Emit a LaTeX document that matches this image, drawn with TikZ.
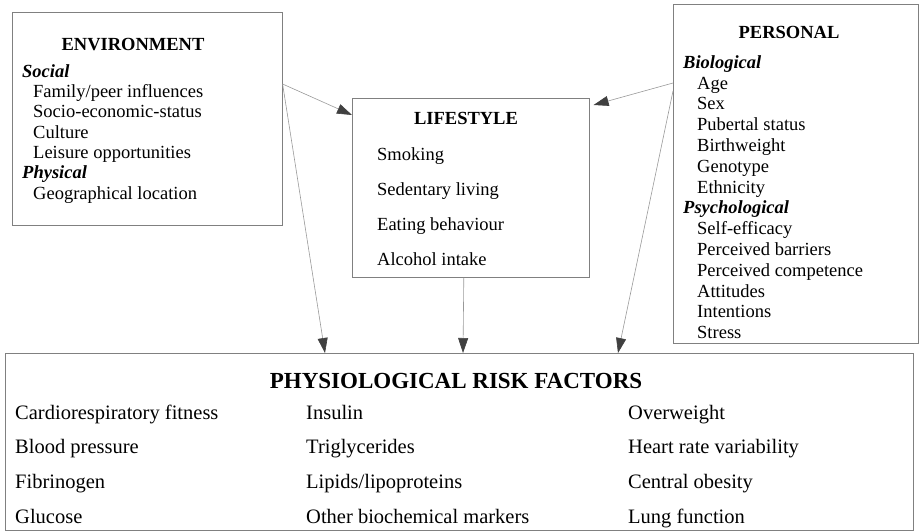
\documentclass[tikz,border=0pt]{standalone}
\usepackage{fontspec}
\setmainfont{Liberation Serif}
\usetikzlibrary{positioning,arrows.meta,calc}

\begin{document}
\begin{tikzpicture}[x=1pt,y=-1pt,
  frame/.style={draw=black!50,line width=0.6pt,inner sep=0pt,anchor=north west},
  head/.style={font=\fontsize{18.5}{20}\selectfont\bfseries,inner sep=0pt},
  item/.style={font=\fontsize{18.5}{20}\selectfont,inner sep=0pt,anchor=base west},
  risk/.style={font=\fontsize{20.5}{22}\selectfont,inner sep=0pt,anchor=base west},
  arr/.style={-{Triangle[length=15pt,width=10pt,color=black!75]},draw=black!40,line width=0.6pt}]
   \useasboundingbox (0,0) rectangle (920,531);
   % the four boxes
   \node[frame,minimum width=270pt,minimum height=213pt] (env) at (12,12) {};
   \node[frame,minimum width=237pt,minimum height=179pt] (life) at (352,98) {};
   \node[frame,minimum width=245pt,minimum height=339pt] (pers) at (673,4) {};
   \node[frame,minimum width=908pt,minimum height=177pt] (phys) at (5,353) {};

   % environment
   \node[head] (envhead) at (133,45) {ENVIRONMENT};
   \foreach \dx/\t [count=\i] in {0/{\textbf{\textit{Social}}},11/{Family/peer influences},
       11/{Socio-economic-status},11/Culture,11/{Leisure opportunities},
       0/{\textbf{\textit{Physical}}},11/{Geographical location}}
     \node[item] (env-\i) at (22+\dx,57+20.3*\i) {\t};

   % lifestyle
   \node[head] (lifehead) at (466,118) {LIFESTYLE};
   \foreach \t [count=\i] in {Smoking,Sedentary living,Eating behaviour,Alcohol intake}
     \node[item] (life-\i) at (377,125.5+35*\i) {\t};

   % personal
   \node[head] (pershead) at (789,32) {PERSONAL};
   \foreach \dx/\t [count=\i] in {0/{\textbf{\textit{Biological}}},14/Age,14/Sex,
       14/{Pubertal status},14/Birthweight,14/Genotype,14/Ethnicity,
       0/{\textbf{\textit{Psychological}}},14/{Self-efficacy},14/{Perceived barriers},
       14/{Perceived competence},14/Attitudes,14/Intentions,14/Stress}
     \node[item] (pers-\i) at (683+\dx,47.5+20.8*\i) {\t};

   % physiological risk factors
   \node[head,font=\fontsize{23}{24}\selectfont\bfseries] (physhead) at (456,381) {PHYSIOLOGICAL RISK FACTORS};
   \foreach \t [count=\i] in {Cardiorespiratory fitness,Blood pressure,Fibrinogen,Glucose}
     \node[risk] (risk-a\i) at (15,384.5+34.7*\i) {\t};
   \foreach \t [count=\i] in {Insulin,Triglycerides,Lipids/lipoproteins,Other biochemical markers}
     \node[risk] (risk-b\i) at (306,384.5+34.7*\i) {\t};
   \foreach \t [count=\i] in {Overweight,Heart rate variability,Central obesity,Lung function}
     \node[risk] (risk-c\i) at (628,384.5+34.7*\i) {\t};

   % arrows
   \coordinate (envout) at ($(env.north east)+(0,72)$);
   \coordinate (persout) at ($(pers.north west)+(0,79)$);
   \path
    (envout) edge[arr] ($(life.north west)+(0,17)$)
    (envout) edge[arr] ($(phys.north west)+(320,0)$)
    ($(life.south)+(-7,0)$) edge[arr] ($(phys.north west)+(458,0)$)
    (persout) edge[arr] ($(life.north east)+(4,7)$)
    ($(persout)+(0,8)$) edge[arr] ($(phys.north west)+(613,0)$);
\end{tikzpicture}
\end{document}
